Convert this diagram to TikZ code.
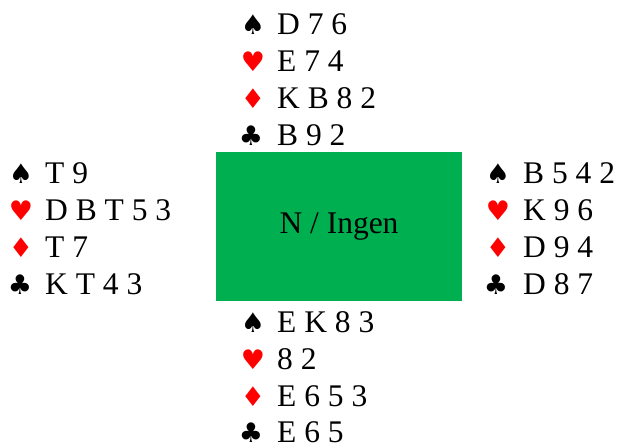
\documentclass[tikz,border=0pt]{standalone}
\usepackage{fontspec}
\setmainfont{Liberation Serif}
\newfontfamily\suitfam{DejaVu Sans}
\definecolor{boxgreen}{RGB}{0,176,80}
\definecolor{suitred}{RGB}{255,0,0}
\tikzset{
  cards/.style={anchor=base west, inner sep=0pt, font=\fontsize{31.5}{37}\selectfont},
  suitsym/.style={anchor=base, inner sep=0pt, font=\suitfam\fontsize{27}{30}\selectfont},
  redsuit/.style={suitsym, text=suitred},
  blacksuit/.style={suitsym, text=black},
  table/.style={fill=boxgreen, draw=none, minimum width=246pt, minimum height=149pt, inner sep=0pt, font=\fontsize{31.5}{37}\selectfont}
}
\begin{document}
\begin{tikzpicture}[x=1pt,y=-1pt]
\useasboundingbox (0,0) rectangle (618,442);
% table
\node[table] (tbl) at (339,226.5) {N / Ingen};
% North
\node[blacksuit] (ns) at (253,34) {♠};
\node[cards] (nst) at (277,34) {D 7 6};
\node[redsuit] (nh) at (253,71) {♥};
\node[cards] (nht) at (277,71) {E 7 4};
\node[redsuit] (nd) at (253,108) {♦};
\node[cards] (ndt) at (277,108) {K B 8 2};
\node[blacksuit] (nc) at (251,145) {♣};
\node[cards] (nct) at (277,145) {B 9 2};
% West
\node[blacksuit] (ws) at (21,183) {♠};
\node[cards] (wst) at (45,183) {T 9};
\node[redsuit] (wh) at (21,220) {♥};
\node[cards] (wht) at (45,220) {D B T 5 3};
\node[redsuit] (wd) at (21,257) {♦};
\node[cards] (wdt) at (45,257) {T 7};
\node[blacksuit] (wc) at (20,294) {♣};
\node[cards] (wct) at (45,294) {K T 4 3};
% East
\node[blacksuit] (es) at (498,183) {♠};
\node[cards] (est) at (523,183) {B 5 4 2};
\node[redsuit] (eh) at (498,220) {♥};
\node[cards] (eht) at (523,220) {K 9 6};
\node[redsuit] (ed) at (498,257) {♦};
\node[cards] (edt) at (523,257) {D 9 4};
\node[blacksuit] (ec) at (496,294) {♣};
\node[cards] (ect) at (523,294) {D 8 7};
% South
\node[blacksuit] (ss) at (253,332) {♠};
\node[cards] (sst) at (277,332) {E K 8 3};
\node[redsuit] (sh) at (253,369) {♥};
\node[cards] (sht) at (277,369) {8 2};
\node[redsuit] (sd) at (253,406) {♦};
\node[cards] (sdt) at (277,406) {E 6 5 3};
\node[blacksuit] (sc) at (251,442) {♣};
\node[cards] (sct) at (277,442) {E 6 5};
\end{tikzpicture}
\end{document}
